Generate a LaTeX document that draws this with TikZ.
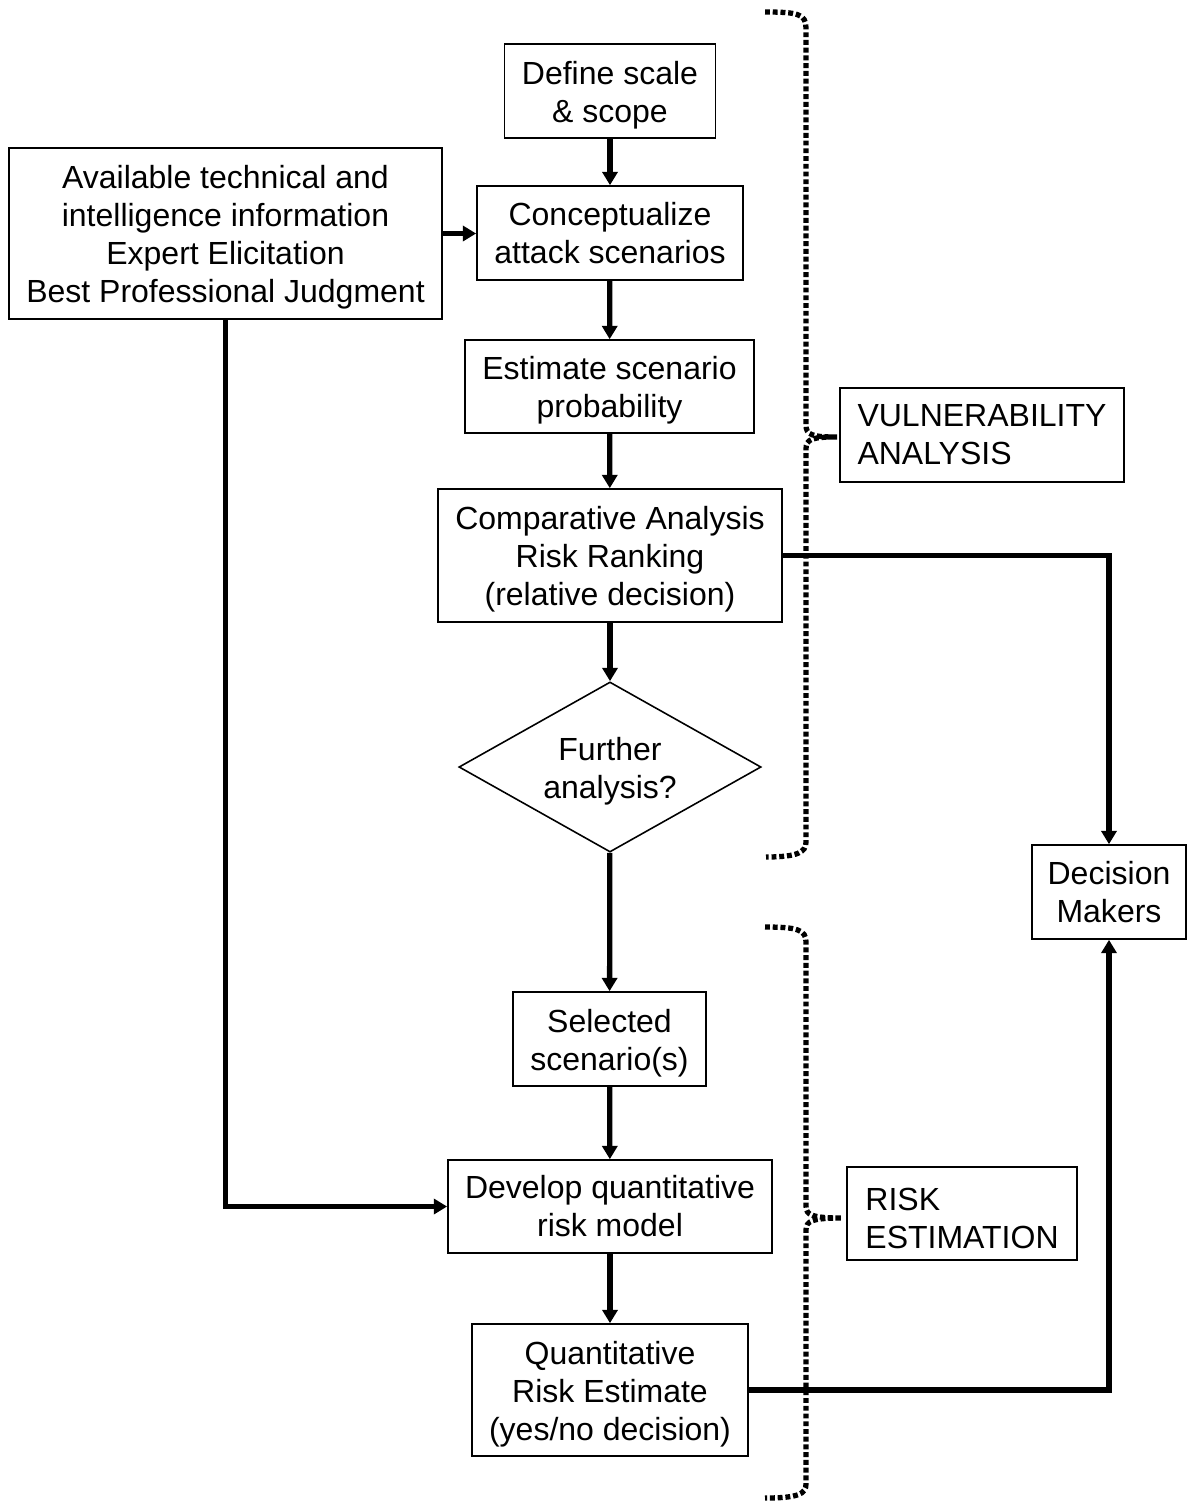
\documentclass[tikz,border=0pt]{standalone}
\usepackage{fontspec}
\setmainfont{Liberation Sans}
\usetikzlibrary{shapes.geometric,arrows.meta}
\newcommand\topstrut{\rule{0pt}{8.9pt}}
\begin{document}
\begin{tikzpicture}[x=0.01cm,y=-0.01cm,
    font=\fontsize{9.1}{10.8}\selectfont,
    box/.style={draw,line width=0.45pt,align=center,inner sep=0pt},
    flow/.style={line width=1.5pt,-{Triangle[length=3.8pt,width=4.3pt]}},
    brace/.style={line width=1.5pt,dash pattern=on 1.4pt off 0.8pt}]
\useasboundingbox (0,0) rectangle (1187,1502);
% main column
\node[box,minimum width=2.11cm,minimum height=0.94cm] (define) at (610,91) {\topstrut Define scale\\\& scope};
\node[box,minimum width=2.66cm,minimum height=0.94cm] (concept) at (610,233) {Conceptualize\\attack scenarios};
\node[box,minimum width=4.33cm,minimum height=1.71cm] (info) at (225.5,233.5) {\topstrut Available technical and\\intelligence information\\Expert Elicitation\\Best Professional Judgment};
\node[box,minimum width=2.89cm,minimum height=0.93cm] (estimate) at (609.5,386.5) {\topstrut Estimate scenario\\probability};
\node[box,minimum width=3.44cm,minimum height=1.33cm] (compare) at (610,555.5) {\topstrut Comparative Analysis\\Risk Ranking\\(relative decision)};
\node[draw,diamond,line width=0.45pt,aspect=1.78,minimum width=3.02cm,minimum height=1.7cm,inner sep=0pt,align=center] (further) at (610,767) {\topstrut Further\\analysis?};
\node[box,minimum width=1.93cm,minimum height=0.94cm] (selected) at (609.5,1039) {\topstrut Selected\\scenario(s)};
\node[box,minimum width=3.24cm,minimum height=0.93cm] (develop) at (610,1206.5) {Develop quantitative\\risk model};
\node[box,minimum width=2.76cm,minimum height=1.32cm] (quant) at (610,1390) {\topstrut Quantitative\\Risk Estimate\\(yes/no decision)};
% side labels
\node[box,align=left,minimum width=2.84cm,minimum height=0.94cm] (vuln) at (982,435) {VULNERABILITY\\ANALYSIS};
\node[box,align=left,minimum width=2.30cm,minimum height=0.93cm] (riskest) at (962,1213.5) {\topstrut RISK\\ESTIMATION};
\node[box,minimum width=1.54cm,minimum height=0.94cm] (decision) at (1109,892) {Decision\\Makers};
% arrows
\draw[flow] (define) -- (concept);
\draw[flow] (info.east) -- (info.east -| concept.west);
\draw[flow] (concept) -- (estimate);
\draw[flow] (estimate) -- (compare);
\draw[flow] (compare) -- (further);
\draw[flow] (further) -- (selected);
\draw[flow] (selected) -- (develop);
\draw[flow] (develop) -- (quant);
\draw[flow] (info.south) |- (develop.west);
\draw[flow] (compare.east) -| (decision.north);
\draw[flow] (quant.east) -| (decision.south);
% dotted braces
\draw[brace] (765,12) .. controls (798,12) and (806,14) .. (806,28) -- (806,425)
  .. controls (806,435) and (812,437) .. (837,437)
  .. controls (812,437) and (806,439) .. (806,449) -- (806,842)
  .. controls (806,852) and (798,857) .. (766,857);
\draw[brace] (765,927) .. controls (798,927) and (806,930) .. (806,942) -- (806,1206)
  .. controls (806,1215) and (812,1218) .. (842,1218)
  .. controls (812,1218) and (806,1221) .. (806,1230) -- (806,1484)
  .. controls (806,1494) and (798,1498) .. (765,1498);
\end{tikzpicture}
\end{document}
